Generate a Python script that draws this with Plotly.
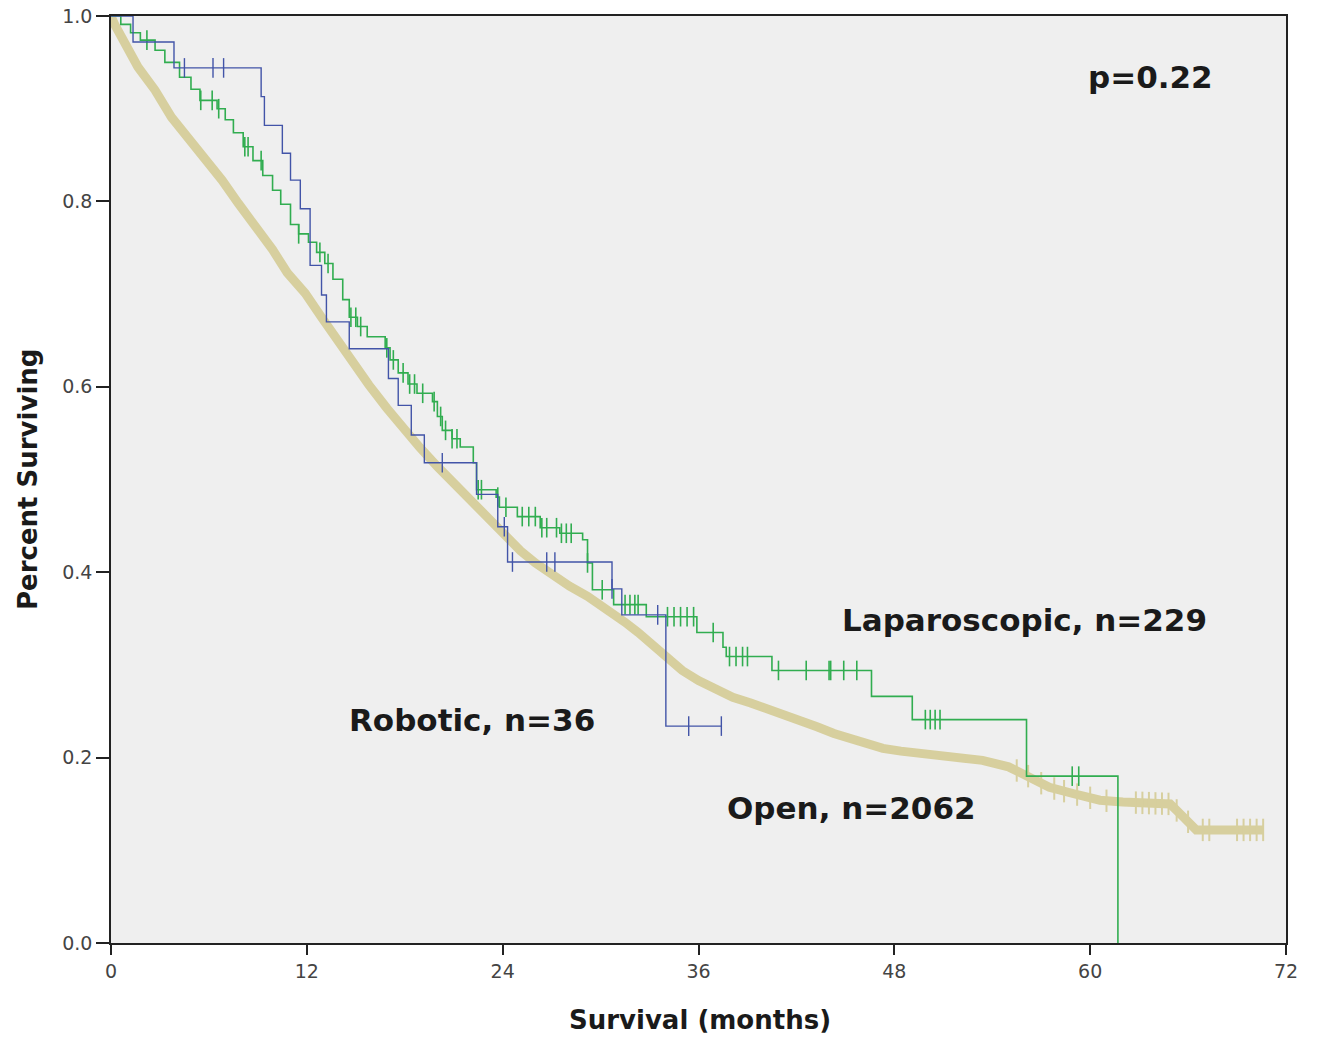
import numpy as np
import plotly.graph_objects as go

# ---------------- data ----------------
# Open (n=2062): Kaplan-Meier curve points (very dense steps, read as a curve)
open_t = [0, 0.25, 1.65, 2.7, 3.7, 4.7, 5.8, 6.8, 7.8, 8.8, 9.9, 10.8, 11.9, 12.9, 13.5, 14.6,
          15.8, 16.9, 17.9, 18.9, 20.0, 21.0, 22.0, 23.0, 24.0, 25.1, 26.0, 27.1, 28.1, 29.2,
          30.0, 30.8, 31.5, 32.3, 33.0, 34.0, 35.0, 36.0, 37.1, 38.1, 39.2, 40.2, 41.2, 42.2,
          43.3, 44.3, 45.3, 46.3, 47.3, 48.4, 49.4, 51.4, 53.4, 55.0, 55.9, 56.7, 57.5, 59.0,
          60.6, 62.0, 64.9, 65.7, 66.5, 70.6]
open_s = [1.0, 0.99, 0.945, 0.920, 0.891, 0.869, 0.848, 0.823, 0.798, 0.776, 0.748, 0.723,
          0.701, 0.675, 0.660, 0.629, 0.602, 0.577, 0.555, 0.535, 0.514, 0.496, 0.478, 0.460,
          0.443, 0.423, 0.410, 0.396, 0.385, 0.374, 0.365, 0.356, 0.346, 0.335, 0.324, 0.309,
          0.294, 0.283, 0.273, 0.265, 0.259, 0.253, 0.248, 0.240, 0.233, 0.226, 0.220, 0.214,
          0.210, 0.207, 0.205, 0.201, 0.197, 0.190, 0.183, 0.175, 0.168, 0.161, 0.154, 0.152,
          0.150, 0.136, 0.122, 0.122]
open_cens = [55.5, 56.2, 57.0, 57.8, 58.4, 59.2, 60.0, 61.0, 62.8, 63.2, 63.6, 64.0, 64.4,
             64.8, 65.3, 66.0, 66.9, 67.3, 69.0, 69.4, 69.8, 70.2, 70.6]

# Laparoscopic (n=229)
lap_t = [0, 0.6, 1.2, 1.8, 2.7, 3.3, 4.2, 4.9, 5.45, 6.5, 7.0, 7.5, 8.1, 8.7, 9.3, 9.9, 10.4,
         11.0, 11.5, 12.1, 12.6, 13.1, 13.6, 14.2, 14.6, 15.1, 15.7, 16.8, 17.1, 17.6, 18.2,
         18.75, 19.7, 20.0, 20.3, 20.9, 21.4, 22.2, 22.4, 23.6, 23.8, 24.9, 26.3, 27.5, 28.9,
         29.2, 29.5, 30.8, 32.8, 35.9, 37.5, 37.7, 40.5, 46.6, 49.1, 56.1, 61.7]
lap_s = [1.0, 0.991, 0.982, 0.974, 0.963, 0.950, 0.934, 0.921, 0.909, 0.900, 0.888, 0.874,
         0.859, 0.844, 0.828, 0.812, 0.797, 0.775, 0.765, 0.756, 0.745, 0.733, 0.716, 0.694,
         0.675, 0.665, 0.654, 0.642, 0.629, 0.615, 0.603, 0.593, 0.584, 0.568, 0.553, 0.544,
         0.535, 0.518, 0.489, 0.481, 0.470, 0.460, 0.448, 0.442, 0.435, 0.410, 0.381, 0.365,
         0.352, 0.335, 0.319, 0.309, 0.294, 0.266, 0.241, 0.180, 0.0]
lap_cens = [2.2, 5.5, 6.2, 6.6, 8.2, 8.4, 9.2, 11.5, 12.8, 13.3, 14.7, 15.0, 15.3, 16.9, 17.3,
            17.9, 18.3, 18.6, 19.1, 19.8, 20.2, 20.5, 20.9, 21.2, 22.5, 22.7, 23.7, 24.2, 25.2,
            25.6, 26.0, 26.4, 26.7, 27.3, 27.6, 27.9, 28.2, 29.2, 30.1, 31.5, 31.8, 32.1, 32.3,
            34.1, 34.5, 34.9, 35.3, 35.7, 36.9, 37.9, 38.3, 38.7, 39.0, 40.9, 42.6, 44.0,
            44.1, 44.9, 45.7, 49.9, 50.2, 50.5, 50.8, 58.9, 59.3]

# Robotic (n=36)
rob_t = [0, 1.35, 3.86, 9.2, 9.4, 10.5, 11.0, 11.6, 12.2, 12.9, 13.2, 14.6, 17.0, 17.6, 18.4,
         19.2, 22.4, 23.7, 24.3, 30.7, 31.3, 34.0, 37.4]
rob_s = [1.0, 0.972, 0.944, 0.913, 0.882, 0.852, 0.823, 0.792, 0.731, 0.699, 0.670, 0.641,
         0.609, 0.580, 0.548, 0.518, 0.484, 0.449, 0.411, 0.382, 0.354, 0.234, 0.234]
rob_cens = [4.5, 6.25, 6.9, 20.3, 24.1, 24.6, 26.7, 27.2, 30.7, 33.5, 35.4, 37.4]

x_ticks = [0, 12, 24, 36, 48, 60, 72]
y_ticks = [0.0, 0.2, 0.4, 0.6, 0.8, 1.0]
y_tick_labels = ["0.0", "0.2", "0.4", "0.6", "0.8", "1.0"]

# ---------------- style ----------------
C_OPEN = "#d7cf9e"
C_LAP = "#31ad50"
C_ROB = "#4254a8"
FONT = "DejaVu Sans"


def step_value(ts, ss, t):
    ts = np.asarray(ts)
    ss = np.asarray(ss)
    i = np.searchsorted(ts, t, side="right") - 1
    return ss[np.clip(i, 0, len(ss) - 1)]


def interp_value(ts, ss, t):
    return np.interp(t, ts, ss)


fig = go.Figure()


def add_curve(ts, ss, cens, color, width, msize, mwidth, shape):
    fig.add_trace(go.Scatter(x=ts, y=ss, mode="lines", line=dict(color=color, width=width, shape=shape),
                             showlegend=False, hoverinfo="skip"))
    if shape == "hv":
        cy = [float(step_value(ts, ss, c)) for c in cens]
    else:
        cy = [float(interp_value(ts, ss, c)) for c in cens]
    fig.add_trace(go.Scatter(x=cens, y=cy, mode="markers",
                             marker=dict(symbol="line-ns", size=msize, line=dict(color=color, width=mwidth)),
                             showlegend=False, hoverinfo="skip"))


add_curve(open_t, open_s, open_cens, C_OPEN, 9, 16, 2, "linear")
add_curve(lap_t, lap_s, lap_cens, C_LAP, 1.6, 14, 1.6, "hv")
add_curve(rob_t, rob_s, rob_cens, C_ROB, 1.4, 14, 1.4, "hv")

label_font = dict(family=FONT, size=31, color="#1a1a1a", weight="bold")
fig.add_annotation(x=63.7, y=0.934, text="p=0.22", showarrow=False, font=label_font)
fig.add_annotation(x=56.0, y=0.348, text="Laparoscopic, n=229", showarrow=False, font=label_font)
fig.add_annotation(x=22.1, y=0.241, text="Robotic, n=36", showarrow=False, font=label_font)
fig.add_annotation(x=45.4, y=0.146, text="Open, n=2062", showarrow=False, font=label_font)

title_font = dict(family=FONT, size=26, color="#1a1a1a", weight="bold")
fig.add_annotation(xref="paper", yref="paper", x=0.501, y=-0.083, text="Survival (months)",
                   xanchor="center", yanchor="middle", showarrow=False, font=title_font)
fig.add_annotation(xref="paper", yref="paper", x=-0.0706, y=0.4995, text="Percent Surviving",
                   xanchor="center", yanchor="middle", textangle=-90, showarrow=False, font=title_font)

fig.update_layout(
    width=1321, height=1042,
    margin=dict(l=111, r=35, t=16, b=99),
    paper_bgcolor="white",
    plot_bgcolor="#efefef",
    font=dict(family=FONT, color="#333333"),
)
fig.update_xaxes(range=[0, 72], tickvals=x_ticks, ticktext=[str(v) for v in x_ticks],
                 showgrid=False, zeroline=False, showline=True, linecolor="#222", linewidth=1.5,
                 mirror=True, ticks="outside", ticklen=10, tickwidth=1.5, tickcolor="#222",
                 tickfont=dict(size=19, color="#444"), automargin=False,
                 ticklabeloverflow="allow")
fig.update_yaxes(range=[0, 1], tickvals=y_ticks, ticktext=y_tick_labels,
                 showgrid=False, zeroline=False, showline=True, linecolor="#222", linewidth=1.5,
                 mirror=True, ticks="outside", ticklen=13, tickwidth=1.5, tickcolor="#222",
                 tickfont=dict(size=19, color="#444"), automargin=False,
                 ticklabeloverflow="allow")

fig.write_html("out.html", config={"displayModeBar": False},
               post_script="document.body.style.margin='0';")
